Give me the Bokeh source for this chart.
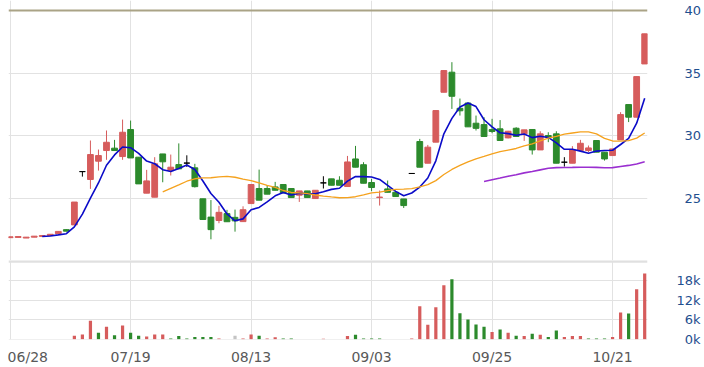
import numpy as np
from bokeh.plotting import figure
from bokeh.layouts import column
from bokeh.models import ColumnDataSource, FixedTicker, Range1d, Span
from bokeh.embed import file_html
from bokeh.resources import INLINE

# ---- data ----
opens = [21.88, 21.90, 21.85, 21.92, 21.98, 22.05, 22.20, 22.52, 22.90, 27.15,
         26.52, 27.98, 28.83, 29.02, 28.35, 30.51, 28.30, 25.43, 25.11, 28.56,
         27.23, 27.71, 27.83, 27.45, 24.98, 23.52, 23.25, 23.80, 23.50, 23.16,
         24.60, 25.80, 25.80, 25.93, 26.12, 25.80, 25.27, 25.61, 25.00, 26.25,
         26.57, 26.46, 25.96, 28.16, 27.70, 26.28, 25.08, 25.77, 25.50, 24.97,
         27.00, 29.55, 27.82, 29.50, 33.48, 35.08, 32.20, 32.62, 31.01, 30.90,
         30.50, 30.56, 29.84, 30.61, 30.16, 30.51, 28.88, 30.03, 30.16, 27.90,
         27.82, 28.83, 28.83, 29.63, 28.70, 28.43, 29.68, 32.50, 31.49, 35.74]
highs = [21.95, 21.97, 21.92, 22.00, 22.05, 22.15, 22.40, 22.55, 24.72, 27.15,
         29.63, 28.91, 30.43, 29.68, 31.30, 31.22, 28.30, 27.29, 28.30, 28.56,
         28.51, 29.40, 28.45, 27.77, 24.98, 24.88, 24.42, 24.10, 24.12, 24.38,
         26.15, 27.31, 26.06, 26.33, 26.12, 25.80, 25.61, 25.61, 25.66, 26.78,
         26.57, 26.78, 28.40, 29.20, 27.90, 26.57, 25.64, 26.44, 25.50, 24.97,
         27.00, 29.76, 29.28, 32.02, 35.21, 35.88, 32.98, 32.62, 31.62, 31.49,
         31.36, 31.26, 30.40, 30.69, 30.48, 30.51, 30.37, 30.29, 30.37, 28.30,
         29.18, 29.68, 29.23, 29.63, 28.70, 28.96, 31.89, 32.50, 34.73, 38.14]
lows = [21.88, 21.90, 21.85, 21.92, 21.98, 22.05, 22.18, 22.38, 22.90, 26.75,
        25.77, 27.23, 28.09, 28.83, 28.09, 28.24, 26.17, 25.43, 25.11, 26.30,
        26.84, 27.37, 27.52, 25.88, 23.33, 21.75, 23.03, 23.15, 22.36, 23.16,
        24.60, 24.87, 25.35, 25.66, 25.45, 25.08, 24.73, 25.08, 25.00, 25.80,
        26.06, 26.06, 25.96, 27.50, 26.22, 25.59, 24.44, 25.50, 25.16, 24.25,
        27.00, 27.50, 27.82, 29.50, 33.48, 32.15, 31.62, 30.72, 30.43, 29.95,
        30.21, 29.63, 29.80, 29.95, 29.60, 28.51, 28.88, 29.50, 27.82, 27.55,
        27.82, 28.83, 28.70, 28.70, 28.03, 28.43, 29.68, 31.10, 31.49, 35.74]
closes = [21.95, 21.97, 21.92, 22.00, 22.05, 22.15, 22.38, 22.40, 24.72, 27.15,
          28.51, 28.43, 29.49, 28.83, 30.29, 28.24, 26.17, 26.41, 27.77, 27.93,
          27.50, 27.37, 27.83, 25.95, 23.33, 22.52, 23.90, 23.15, 23.22, 24.11,
          26.12, 24.87, 25.35, 25.66, 25.45, 25.08, 25.61, 25.08, 25.66, 26.25,
          26.06, 26.06, 27.92, 27.50, 26.22, 25.88, 25.12, 25.50, 25.16, 24.44,
          27.00, 27.50, 29.10, 32.02, 35.21, 33.16, 32.00, 30.72, 30.60, 29.95,
          30.35, 29.63, 30.37, 29.95, 30.48, 28.88, 30.16, 29.90, 27.82, 27.90,
          28.88, 29.41, 29.04, 28.70, 28.16, 28.96, 31.70, 31.49, 34.73, 38.14]
volumes_k = [0, 0, 0, 0, 0, 0, 0, 0, 1.1, 1.45,
             5.65, 1.95, 3.85, 1.2, 4.2, 1.95, 1.1, 0.8, 1.45, 1.45,
             0.2, 1.0, 0.2, 0.65, 0.65, 0.65, 0.25, 0, 1.05, 0.2,
             1.45, 1.05, 0.25, 0.6, 0.2, 0.2, 0, 0, 0, 0.15,
             0, 0, 1.0, 1.4, 0.2, 0.2, 0.2, 0, 0, 0,
             0.2, 10.1, 4.45, 9.8, 16.6, 18.45, 7.95, 6.05, 4.5, 3.8,
             2.25, 2.95, 1.95, 1.1, 1.0, 1.7, 1.4, 0.7, 2.65, 0.7,
             1.0, 1.0, 0.2, 0.2, 0.2, 0.7, 8.2, 7.9, 15.4, 20.2]
vol_dir = [0, 0, 0, 0, 0, 0, 0, 0, 1, 1,
           1, -1, 1, -1, 1, -1, -1, 1, 1, 1,
           -1, -1, -1, -1, -1, -1, 1, -1, 0, 1,
           1, -1, 1, 1, -1, -1, 1, -1, 1, 1,
           -1, -1, 1, -1, -1, -1, -1, -1, -1, -1,
           1, 1, 1, 1, 1, -1, -1, -1, -1, -1,
           1, -1, 1, -1, 1, -1, 1, -1, -1, 1,
           1, 1, -1, -1, -1, 1, 1, -1, 1, 1]
date_tick_idx = [0, 15, 30, 45, 60, 75]
date_tick_labels = ["06/28", "07/19", "08/13", "09/03", "09/25", "10/21"]
price_ticks = [25, 30, 35, 40]
vol_ticks = [0, 6, 12, 18]
vol_tick_labels = ["\u20070k", "\u20076k", "12k", "18k"]

RED = "#d65c5c"
GREEN = "#2c8a2c"
GRAY = "#c4c4c4"
GRID = "#e2e2e2"

def moving_average(vals, n):
    out = [np.nan] * len(vals)
    for i in range(n - 1, len(vals)):
        out[i] = sum(vals[i - n + 1:i + 1]) / n
    return out

idx = list(range(len(closes)))
cols = [RED if c > o else (GREEN if c < o else "black") for o, c in zip(opens, closes)]
src = ColumnDataSource(dict(
    x=idx, top=[max(o, c) for o, c in zip(opens, closes)],
    bottom=[min(o, c) for o, c in zip(opens, closes)],
    high=highs, low=lows, color=cols))
ma_src = ColumnDataSource(dict(x=idx, ma5=moving_average(closes, 5),
                               ma20=moving_average(closes, 20),
                               ma60=moving_average(closes, 60)))
vcols = [RED if d > 0 else (GREEN if d < 0 else GRAY) for d in vol_dir]
vsrc = ColumnDataSource(dict(x=idx, top=volumes_k, color=vcols))

W = 704
xr = Range1d(-0.2, 79.35)

p = figure(width=W, height=260, x_range=xr, y_range=Range1d(20.058, 40.80),
           output_backend="svg", toolbar_location=None,
           x_axis_location=None, y_axis_location="right",
           min_border_left=8, min_border_right=52, min_border_top=0, min_border_bottom=0)
p.outline_line_color = None
p.background_fill_color = "white"
p.border_fill_color = "white"
p.xgrid.ticker = FixedTicker(ticks=date_tick_idx)
p.ygrid.ticker = FixedTicker(ticks=[25, 30, 35])
p.xgrid.grid_line_color = GRID
p.ygrid.grid_line_color = GRID
p.add_layout(Span(location=40, dimension="width", line_color="#aaa386", line_width=2))

p.segment(x0="x", y0="low", x1="x", y1="high", color="color", line_width=1, source=src)
p.vbar(x="x", width=0.72, top="top", bottom="bottom", fill_color="color",
       line_color="color", line_width=1, source=src)
p.line("x", "ma5", source=ma_src, line_color="#0b0bc8", line_width=1.6)
p.line("x", "ma20", source=ma_src, line_color="#f5a21e", line_width=1.3)
p.line("x", "ma60", source=ma_src, line_color="#9a2fd0", line_width=1.6)

ya = p.yaxis[0]
ya.ticker = FixedTicker(ticks=price_ticks)
ya.major_tick_line_color = None
ya.minor_tick_line_color = None
ya.axis_line_color = None
ya.major_label_standoff = 31
ya.major_label_text_font = "DejaVu Sans"
ya.major_label_text_font_size = "13px"
ya.major_label_text_color = "#1f4f8f"

v = figure(width=W, height=107, x_range=xr, y_range=Range1d(-0.09, 24.21),
           output_backend="svg", toolbar_location=None, y_axis_location="right",
           min_border_left=8, min_border_right=52, min_border_top=0, min_border_bottom=26)
v.outline_line_color = None
v.background_fill_color = "white"
v.border_fill_color = "white"
v.xgrid.ticker = FixedTicker(ticks=date_tick_idx)
v.ygrid.ticker = FixedTicker(ticks=vol_ticks)
v.xgrid.grid_line_color = GRID
v.ygrid.grid_line_color = GRID
v.add_layout(Span(location=24, dimension="width", line_color="#e0e0e0", line_width=3))
v.vbar(x="x", width=0.4, top="top", bottom=0, fill_color="color", line_color=None, source=vsrc)

xa = v.xaxis[0]
label_pos = [2.2] + date_tick_idx[1:]
xa.ticker = FixedTicker(ticks=label_pos)
xa.major_label_overrides = {float(t): lab for t, lab in zip(label_pos, date_tick_labels)}
xa.major_tick_line_color = None
xa.minor_tick_line_color = None
xa.axis_line_color = None
xa.major_label_standoff = 3
xa.major_label_text_font = "DejaVu Sans"
xa.major_label_text_font_size = "14px"
xa.major_label_text_color = "#595959"

va = v.yaxis[0]
va.ticker = FixedTicker(ticks=vol_ticks)
va.major_label_overrides = {t: lab for t, lab in zip(vol_ticks, vol_tick_labels)}
va.major_tick_line_color = None
va.minor_tick_line_color = None
va.axis_line_color = None
va.major_label_standoff = 23
va.major_label_text_font = "DejaVu Sans"
va.major_label_text_font_size = "13px"
va.major_label_text_color = "#1f4f8f"

layout = column(p, v, spacing=0)
open("out.html", "w").write(file_html(layout, INLINE))
